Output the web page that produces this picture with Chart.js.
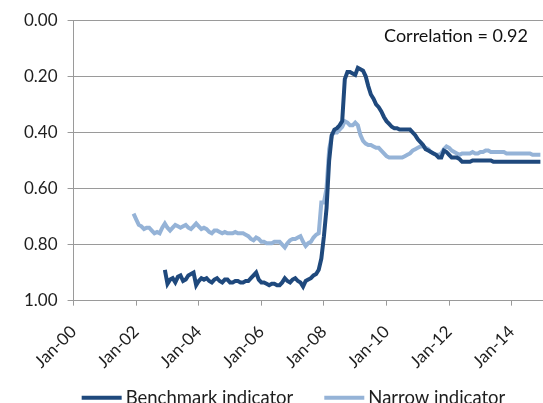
<!DOCTYPE html>
<html>
<head>
<meta charset="utf-8">
<script src="https://cdn.jsdelivr.net/npm/chart.js@4"></script>
<style>
  html, body { margin: 0; padding: 0; background: #fff; overflow: hidden; }
  #wrap { width: 543px; height: 403px; }
</style>
</head>
<body>
<div id="wrap"><canvas id="chart" width="543" height="403"></canvas></div>
<script>
// ===== DATA =====
// monthly series, index 0 = first month; months counted from Jan-00
const narrowFirstMonth = 23;   // Dec-01
const narrowValues = [
  0.69,
  0.71, 0.73, 0.735, 0.745, 0.74, 0.74, 0.75, 0.76, 0.755, 0.76, 0.74, 0.725,      // 2002
  0.74, 0.75, 0.74, 0.73, 0.735, 0.74, 0.735, 0.73, 0.74, 0.745, 0.735, 0.725,     // 2003
  0.735, 0.745, 0.74, 0.745, 0.755, 0.76, 0.75, 0.75, 0.755, 0.76, 0.755, 0.76,    // 2004
  0.76, 0.76, 0.755, 0.76, 0.76, 0.76, 0.765, 0.77, 0.78, 0.785, 0.775, 0.78,      // 2005
  0.79, 0.79, 0.795, 0.795, 0.795, 0.79, 0.79, 0.79, 0.80, 0.81, 0.795, 0.785,     // 2006
  0.78, 0.78, 0.775, 0.77, 0.79, 0.805, 0.795, 0.79, 0.775, 0.765, 0.76, 0.65,     // 2007
  0.65, 0.60, 0.46, 0.41, 0.40, 0.40, 0.39, 0.38, 0.36, 0.365, 0.375, 0.375,       // 2008
  0.365, 0.375, 0.41, 0.43, 0.44, 0.445, 0.445, 0.45, 0.455, 0.455, 0.465, 0.475,  // 2009
  0.485, 0.49, 0.49, 0.49, 0.49, 0.49, 0.49, 0.485, 0.48, 0.475, 0.465, 0.46,      // 2010
  0.455, 0.45, 0.45, 0.455, 0.46, 0.47, 0.475, 0.48, 0.48, 0.475, 0.46, 0.45,      // 2011
  0.455, 0.465, 0.47, 0.475, 0.48, 0.475, 0.475, 0.475, 0.475, 0.47, 0.475, 0.475, // 2012
  0.47, 0.47, 0.465, 0.465, 0.47, 0.47, 0.47, 0.47, 0.47, 0.47, 0.475, 0.475,      // 2013
  0.475, 0.475, 0.475, 0.475, 0.475, 0.475, 0.475, 0.475, 0.48, 0.48, 0.48, 0.48   // 2014
];

const benchFirstMonth = 35;    // Dec-02
const benchValues = [
  0.89,
  0.94, 0.925, 0.92, 0.935, 0.915, 0.91, 0.93, 0.925, 0.91, 0.905, 0.90, 0.945,    // 2003
  0.93, 0.92, 0.925, 0.92, 0.93, 0.935, 0.925, 0.92, 0.93, 0.935, 0.925, 0.925,    // 2004
  0.935, 0.935, 0.93, 0.93, 0.935, 0.935, 0.93, 0.93, 0.92, 0.91, 0.90, 0.925,     // 2005
  0.935, 0.935, 0.94, 0.945, 0.94, 0.94, 0.945, 0.945, 0.935, 0.92, 0.93, 0.935,   // 2006
  0.925, 0.92, 0.93, 0.935, 0.95, 0.93, 0.925, 0.92, 0.91, 0.905, 0.89, 0.85,      // 2007
  0.77, 0.67, 0.50, 0.41, 0.39, 0.385, 0.375, 0.36, 0.21, 0.185, 0.185, 0.19,      // 2008
  0.195, 0.17, 0.175, 0.18, 0.20, 0.235, 0.265, 0.28, 0.30, 0.31, 0.325, 0.345,    // 2009
  0.36, 0.37, 0.38, 0.385, 0.385, 0.39, 0.39, 0.39, 0.39, 0.39, 0.40, 0.41,        // 2010
  0.425, 0.435, 0.445, 0.46, 0.465, 0.47, 0.475, 0.48, 0.49, 0.49, 0.465, 0.47,    // 2011
  0.48, 0.49, 0.49, 0.49, 0.495, 0.505, 0.505, 0.505, 0.505, 0.50, 0.50, 0.50,     // 2012
  0.50, 0.50, 0.50, 0.50, 0.50, 0.505, 0.505, 0.505, 0.505, 0.505, 0.505, 0.505,   // 2013
  0.505, 0.505, 0.505, 0.505, 0.505, 0.505, 0.505, 0.505, 0.505, 0.505, 0.505, 0.505 // 2014
];

const xTickLabels = ['Jan-00', 'Jan-02', 'Jan-04', 'Jan-06', 'Jan-08', 'Jan-10', 'Jan-12', 'Jan-14'];
const yTickValues = [0, 0.2, 0.4, 0.6, 0.8, 1.0];
const seriesNames = ['Benchmark indicator', 'Narrow indicator'];
const correlationText = 'Correlation = 0.92';

// ===== HELPERS =====
const toPoints = (first, values) => values.map((v, i) => ({ x: 2000 + (first + i) / 12, y: v }));

const FONT = 'Lato';
const TEXT = '#1e1e1e';
const GRID = '#9a9a9a';

// correlation note in the top right corner of the plot
const corrNote = {
  id: 'corrNote',
  afterDraw(chart) {
    const { ctx, chartArea } = chart;
    ctx.save();
    ctx.font = '18px ' + FONT;
    ctx.fillStyle = '#111';
    ctx.textAlign = 'right';
    ctx.textBaseline = 'middle';
    ctx.fillText(correlationText, chartArea.right - 15, chartArea.top + 16);
    ctx.restore();
  }
};

// legend row under the axis labels: line swatch + series name
const lineLegend = {
  id: 'lineLegend',
  afterDraw(chart, args, opts) {
    const { ctx, chartArea, width } = chart;
    const sets = chart.data.datasets;
    ctx.save();
    ctx.font = opts.fontSize + 'px ' + FONT;
    ctx.textBaseline = 'middle';
    const items = sets.map(ds => ({ ds, w: opts.swatch + opts.gap + ctx.measureText(ds.label).width }));
    const total = items.reduce((a, it) => a + it.w, 0) + opts.spacing * (items.length - 1);
    let x = (width - total) / 2 + opts.shift;
    const y = chartArea.bottom + opts.offset;
    items.forEach(it => {
      ctx.strokeStyle = it.ds.borderColor;
      ctx.lineWidth = it.ds.borderWidth;
      ctx.beginPath();
      ctx.moveTo(x, y);
      ctx.lineTo(x + opts.swatch, y);
      ctx.stroke();
      ctx.fillStyle = TEXT;
      ctx.fillText(it.ds.label, x + opts.swatch + opts.gap, y);
      x += it.w + opts.spacing;
    });
    ctx.restore();
  }
};

// ===== CHART =====
new Chart(document.getElementById('chart'), {
  type: 'line',
  data: {
    datasets: [
      {
        label: seriesNames[0],
        data: toPoints(benchFirstMonth, benchValues),
        borderColor: '#1f497d',
        backgroundColor: '#1f497d',
        borderWidth: 4,
        pointRadius: 0,
        tension: 0,
        order: 1
      },
      {
        label: seriesNames[1],
        data: toPoints(narrowFirstMonth, narrowValues),
        borderColor: '#95b3d7',
        backgroundColor: '#95b3d7',
        borderWidth: 4,
        pointRadius: 0,
        tension: 0,
        order: 2
      }
    ]
  },
  options: {
    responsive: false,
    animation: false,
    devicePixelRatio: 1,
    layout: { padding: { left: 14, top: 10, right: 0, bottom: 15 } },
    plugins: {
      tooltip: { enabled: false },
      legend: { display: false },
      lineLegend: { fontSize: 18.5, swatch: 40, gap: 4, spacing: 31, offset: 97, shift: 22 }
    },
    scales: {
      x: {
        type: 'linear',
        min: 2000,
        max: 2015,
        afterBuildTicks: (scale) => {
          scale.ticks = scale.ticks.filter(t => (t.value - 2000) % 2 === 0);
        },
        ticks: {
          stepSize: 2,
          autoSkip: false,
          minRotation: 45,
          maxRotation: 45,
          padding: 16,
          color: TEXT,
          font: { family: FONT, size: 17 },
          callback: (v) => xTickLabels[Math.round((v - 2000) / 2)]
        },
        grid: { drawOnChartArea: false, drawTicks: true, tickLength: 5, color: GRID },
        border: { display: true, color: GRID, width: 1 }
      },
      y: {
        reverse: true,
        min: 0,
        max: 1,
        afterBuildTicks: (scale) => {
          scale.ticks = yTickValues.map(v => ({ value: v }));
        },
        ticks: {
          padding: 10,
          color: TEXT,
          font: { family: FONT, size: 17 },
          callback: (v) => v.toFixed(2)
        },
        grid: { color: GRID, lineWidth: 1, tickLength: 6 },
        border: { display: true, color: GRID, width: 1 }
      }
    }
  },
  plugins: [corrNote, lineLegend]
});
</script>
</body>
</html>
